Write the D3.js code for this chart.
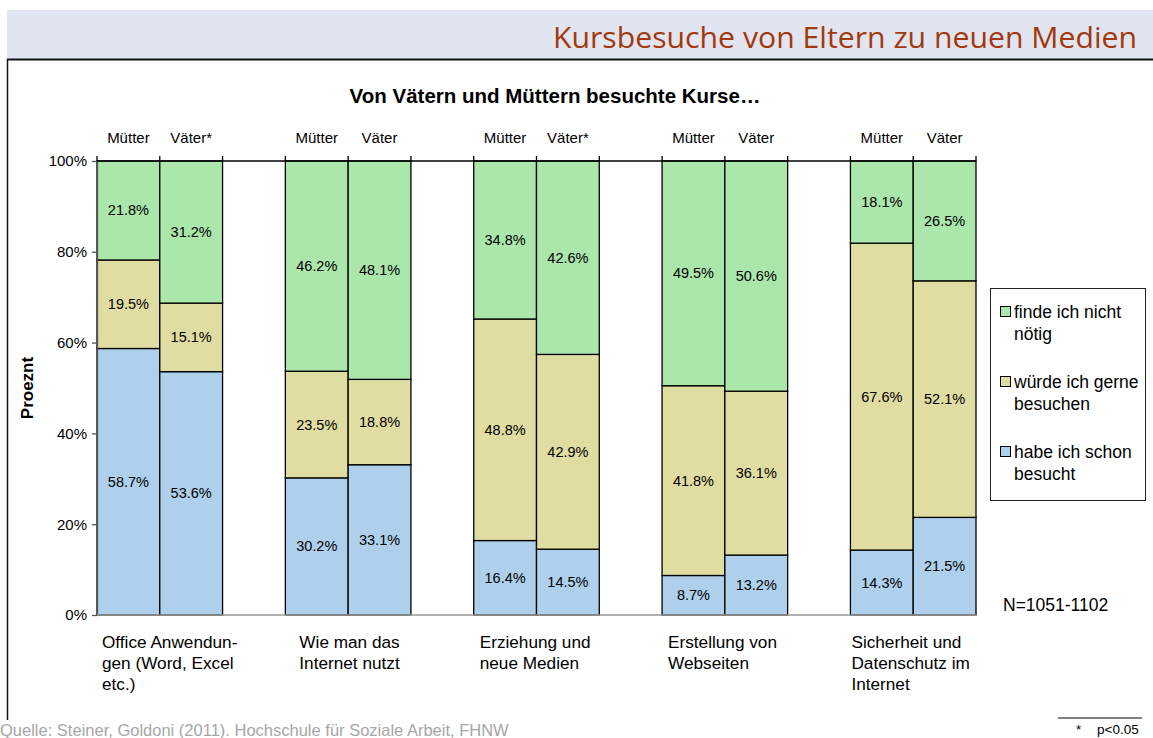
<!DOCTYPE html>
<html>
<head>
<meta charset="utf-8">
<script src="https://cdn.jsdelivr.net/npm/d3@7"></script>
<style>
  html, body { margin: 0; padding: 0; background: #fff; }
  svg { display: block; font-family: "Liberation Sans", Arial, sans-serif; }
</style>
</head>
<body>
<svg id="chart" width="1153" height="738"></svg>
<script>
// Course topics (one group of two bars each)
const topics = [
  ["Office Anwendun-", "gen (Word, Excel", "etc.)"],
  ["Wie man das", "Internet nutzt"],
  ["Erziehung und", "neue Medien"],
  ["Erstellung von", "Webseiten"],
  ["Sicherheit und", "Datenschutz im", "Internet"]
];
// Bar headers per group (Mütter / Väter, * = significant)
const barHeaders = [
  ["Mütter", "Väter*"],
  ["Mütter", "Väter"],
  ["Mütter", "Väter*"],
  ["Mütter", "Väter"],
  ["Mütter", "Väter"]
];
// Answer categories, bottom to top
const answers = ["habe ich schon besucht", "würde ich gerne besuchen", "finde ich nicht nötig"];
const answerColors = ["#aed0ec", "#e0dda2", "#abe6ab"];
// Percent values: [Mütter, Väter] per topic
const besucht = [[58.7, 53.6], [30.2, 33.1], [16.4, 14.5], [8.7, 13.2], [14.3, 21.5]];
const gerne   = [[19.5, 15.1], [23.5, 18.8], [48.8, 42.9], [41.8, 36.1], [67.6, 52.1]];
const nichtNoetig = [[21.8, 31.2], [46.2, 48.1], [34.8, 42.6], [49.5, 50.6], [18.1, 26.5]];
const yTicks = [0, 20, 40, 60, 80, 100];

const svg = d3.select("#chart");

// Header band and frame
svg.append("rect").attr("x", 7).attr("y", 10).attr("width", 1146).attr("height", 49).attr("fill", "#e1e5f1");
svg.append("text").attr("x", 1137).attr("y", 48).attr("text-anchor", "end")
  .attr("font-family", "'Open Sans', 'Noto Sans', sans-serif").attr("font-size", 29)
  .attr("fill", "#a3380c").attr("textLength", 584).attr("lengthAdjust", "spacingAndGlyphs")
  .text("Kursbesuche von Eltern zu neuen Medien");
svg.append("line").attr("x1", 7).attr("x2", 1153).attr("y1", 59.5).attr("y2", 59.5).attr("stroke", "#111").attr("stroke-width", 2);
svg.append("line").attr("x1", 7.5).attr("x2", 7.5).attr("y1", 59).attr("y2", 720).attr("stroke", "#111").attr("stroke-width", 1.5);

// Scales: 14 slots (2 bars + 1 gap per group)
const x0 = 97, x1 = 976, yTop = 161, yBot = 615;
const slots = d3.range(14);
const x = d3.scaleBand().domain(slots).range([x0, x1]).paddingInner(0).paddingOuter(0);
const y = d3.scaleLinear().domain([0, 100]).range([yBot, yTop]);

// Chart title
svg.append("text").attr("x", 555).attr("y", 103).attr("text-anchor", "middle")
  .attr("font-size", 20.5).attr("font-weight", "bold").text("Von Vätern und Müttern besuchte Kurse…");

// Stacked bars
const bars = [];
topics.forEach((t, g) => {
  [0, 1].forEach(b => {
    const vals = [besucht[g][b], gerne[g][b], nichtNoetig[g][b]];
    let acc = 0;
    vals.forEach((v, k) => {
      const start = acc;
      acc += v;
      bars.push({ slot: g * 3 + b, k, v, y0: start, y1: k === 2 ? 100 : acc });
    });
  });
});

const barG = svg.append("g");
barG.selectAll("rect").data(bars).join("rect")
  .attr("x", d => x(d.slot))
  .attr("width", x.bandwidth())
  .attr("y", d => y(d.y1))
  .attr("height", d => y(d.y0) - y(d.y1))
  .attr("fill", d => answerColors[d.k])
  .attr("stroke", "#000").attr("stroke-width", 1.3);

barG.selectAll("text").data(bars).join("text")
  .attr("x", d => x(d.slot) + x.bandwidth() / 2)
  .attr("y", d => y((d.y0 + d.y1) / 2) + 5)
  .attr("text-anchor", "middle").attr("font-size", 14.5)
  .text(d => d.v.toFixed(1) + "%");

// Y axis
const yAxis = d3.axisLeft(y).tickValues(yTicks).tickFormat(d => d + "%").tickSize(5).tickSizeOuter(0);
const yg = svg.append("g").attr("transform", `translate(${x0},0)`).call(yAxis);
yg.select(".domain").attr("stroke", "#555").attr("stroke-width", 1.3);
yg.selectAll(".tick line").attr("stroke", "#555").attr("stroke-width", 1.3);
yg.selectAll(".tick text").attr("font-size", 15).attr("fill", "#000").attr("font-family", "'Liberation Sans', Arial, sans-serif").attr("x", -10);

// Bottom axis line
svg.append("line").attr("x1", x0).attr("x2", x1).attr("y1", yBot).attr("y2", yBot).attr("stroke", "#999").attr("stroke-width", 1.5);

// Top axis with tick marks at slot boundaries
const topG = svg.append("g");
topG.append("line").attr("x1", x0).attr("x2", x1).attr("y1", yTop).attr("y2", yTop).attr("stroke", "#000").attr("stroke-width", 1.3);
topG.selectAll("line.tk").data(d3.range(15)).join("line").attr("class", "tk")
  .attr("x1", i => x0 + i * x.step()).attr("x2", i => x0 + i * x.step())
  .attr("y1", yTop - 5).attr("y2", yTop).attr("stroke", "#000").attr("stroke-width", 1.3);

// Bar headers
barHeaders.forEach((pair, g) => {
  pair.forEach((lab, b) => {
    svg.append("text").attr("x", x(g * 3 + b) + x.bandwidth() / 2).attr("y", 143)
      .attr("text-anchor", "middle").attr("font-size", 15).text(lab);
  });
});

// Topic labels under groups
const labelShift = [5, 14, 6, 6, 1];
topics.forEach((lines, g) => {
  const t = svg.append("text").attr("font-size", 17.2);
  lines.forEach((ln, i) => {
    t.append("tspan").attr("x", x(g * 3) + labelShift[g]).attr("y", 648 + i * 21).text(ln);
  });
});

// Axis title
svg.append("text").attr("transform", "translate(33,388) rotate(-90)")
  .attr("text-anchor", "middle").attr("font-size", 17).attr("font-weight", "bold").text("Proeznt");

// Legend
const lg = svg.append("g");
lg.append("rect").attr("x", 990.5).attr("y", 288.5).attr("width", 155).attr("height", 212)
  .attr("fill", "#fff").attr("stroke", "#222").attr("stroke-width", 1);
const legendLines = [["finde ich nicht", "nötig"], ["würde ich gerne", "besuchen"], ["habe ich schon", "besucht"]];
const legendColor = [answerColors[2], answerColors[1], answerColors[0]];
legendLines.forEach((lines, i) => {
  const top = 312 + i * 70;
  lg.append("rect").attr("x", 1000.5).attr("y", top - 5.5).attr("width", 10).attr("height", 10)
    .attr("fill", legendColor[i]).attr("stroke", "#000").attr("stroke-width", 1);
  const t = lg.append("text").attr("font-size", 17.5);
  lines.forEach((ln, j) => t.append("tspan").attr("x", 1014).attr("y", top + 6 + j * 22).text(ln));
});

// Sample size
svg.append("text").attr("x", 1003).attr("y", 611).attr("font-size", 17.5).text("N=1051-1102");

// Source and footnote
svg.append("text").attr("x", 0).attr("y", 736).attr("font-size", 16.5).attr("fill", "#a6a6a6")
  .text("Quelle: Steiner, Goldoni (2011). Hochschule für Soziale Arbeit, FHNW");
svg.append("line").attr("x1", 1058).attr("x2", 1142).attr("y1", 718).attr("y2", 718).attr("stroke", "#000").attr("stroke-width", 1);
svg.append("text").attr("x", 1076).attr("y", 734).attr("font-size", 13.5).text("*");
svg.append("text").attr("x", 1097).attr("y", 734).attr("font-size", 13.5).text("p<0.05");
</script>
</body>
</html>
